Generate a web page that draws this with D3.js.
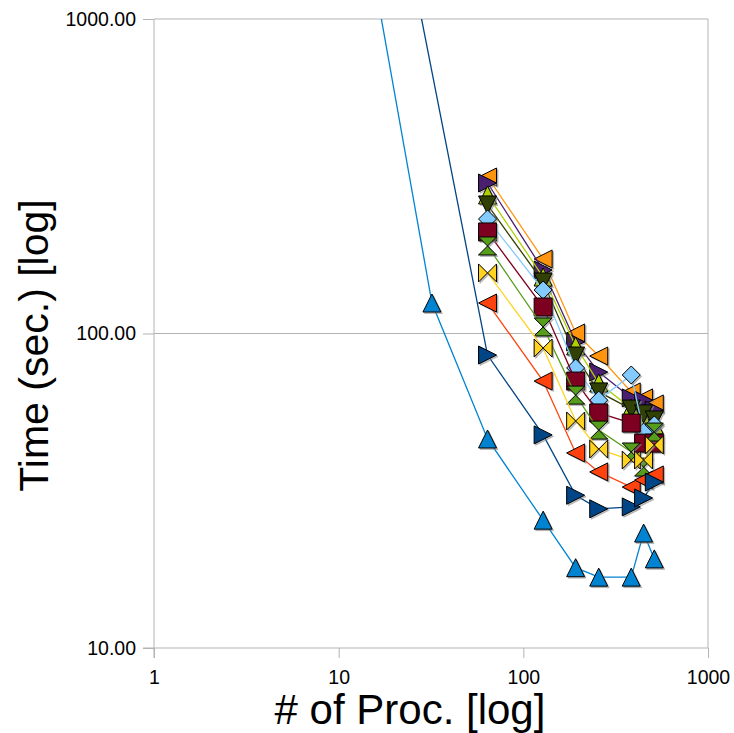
<!DOCTYPE html>
<html>
<head>
<meta charset="utf-8">
<script src="https://cdn.jsdelivr.net/npm/d3@7"></script>
<style>
  html, body { margin: 0; padding: 0; background: #fff; }
  svg { display: block; font-family: "Liberation Sans", Arial, sans-serif; }
</style>
</head>
<body>
<svg id="chart" width="734" height="733"></svg>
<script>
// ---- data ----
const procs = [64, 128, 192, 256, 384, 448, 512];
const xTicks = [1, 10, 100, 1000];
const yTicks = [10, 100, 1000];
const xTitle = "# of Proc. [log]";
const yTitle = "Time (sec.) [log]";

const s1x = [16, 64, 128, 192, 256, 384, 448, 512];
const s1y = [5400, 85.4, 47.6, 30.6, 27.7, 28.1, 30.0, 33.7];
const s2y = [125, 70.6, 41.7, 36.3, 32.5, 34.2, 35.5];
const s3y = [155.8, 89.9, 52.7, 42.9, 39.6, 39.6, 44.2];
const s4y = [189.8, 104.9, 63.7, 49.3, 42.0, 37.6, 48.6];
const s5y = [210.3, 121.4, 70.6, 55.9, 51.9, 44.8, 44.8];
const s6y = [231.2, 137.5, 77.7, 61.4, 73.8, 48.6, 51.2];
const s7y = [256.3, 145.8, 84.8, 65.2, 57.5, 55.5, 53.1];
const s8y = [275.7, 151.2, 91.3, 69.6, 57.9, 53.5, 51.2];
const s9y = [301, 159.2, 94.0, 75.4, 62.4, 61.4, 57.1];
const s10y = [314.5, 172.5, 100.4, 84.8, 65.2, 62.4, 59.7];
const s12x = [16, 32, 64, 128, 192, 256, 384, 448, 512];
const s12y = [1230, 125, 46.2, 25.5, 18.0, 16.8, 16.8, 23.2, 19.2];

const series = [
  { x: s1x,   y: s1y,  color: "#004586", sym: "right" },
  { x: procs, y: s2y,  color: "#ff420e", sym: "left" },
  { x: procs, y: s3y,  color: "#ffd320", sym: "bowtie" },
  { x: procs, y: s4y,  color: "#579d1c", sym: "sandglass" },
  { x: procs, y: s5y,  color: "#7e0021", sym: "square" },
  { x: procs, y: s6y,  color: "#83caff", sym: "diamond" },
  { x: procs, y: s7y,  color: "#314004", sym: "down" },
  { x: procs, y: s8y,  color: "#aecf00", sym: "up" },
  { x: procs, y: s9y,  color: "#4b1f6f", sym: "right" },
  { x: procs, y: s10y, color: "#ff950e", sym: "left" },
  { x: s12x,  y: s12y, color: "#0084d1", sym: "up" }
];

// ---- layout ----
const L = 154, R = 708, T = 19, B = 648;
const svg = d3.select("#chart");
const x = d3.scaleLog().domain([1, 1000]).range([L, R]);
const y = d3.scaleLog().domain([10, 1000]).range([B, T]);
const grid = "#b3b3b3";

// gridlines
svg.append("g").selectAll("line").data(yTicks.filter(v => v !== 10)).join("line")
  .attr("x1", L).attr("x2", R).attr("y1", d => y(d)).attr("y2", d => y(d))
  .attr("stroke", grid).attr("stroke-width", 1);
svg.append("line").attr("x1", R).attr("x2", R).attr("y1", T).attr("y2", B)
  .attr("stroke", grid).attr("stroke-width", 1);

// axes
const xAxis = d3.axisBottom(x).tickValues(xTicks).tickFormat(d3.format("d"))
  .tickSize(10).tickPadding(12);
const gx = svg.append("g").attr("transform", `translate(0,${B})`).call(xAxis);
const yAxis = d3.axisLeft(y).tickValues(yTicks).tickFormat(d3.format(".2f"))
  .tickSize(11).tickPadding(7);
const gy = svg.append("g").attr("transform", `translate(${L},0)`).call(yAxis);
[gx, gy].forEach(g => {
  g.select(".domain").attr("stroke", grid).attr("stroke-width", 1);
  g.selectAll(".tick line").attr("stroke", grid).attr("stroke-width", 1);
  g.selectAll(".tick text").attr("fill", "#000")
    .style("font-family", "'Liberation Sans', Arial, sans-serif").style("font-size", "19.5px");
});
gy.select(".domain").attr("d", `M0,${T}V${B + 10}`);
gx.select(".domain").attr("d", `M${L - 11},0H${R}`);

// titles
svg.append("text").attr("x", (L + R) / 2 - 21).attr("y", 724)
  .attr("text-anchor", "middle").style("font-size", "42px").text(xTitle);
svg.append("text").attr("transform", `translate(48,${(T + B) / 2 + 12}) rotate(-90)`)
  .attr("text-anchor", "middle").style("font-size", "41px").text(yTitle);

// clip
svg.append("clipPath").attr("id", "clip").append("rect")
  .attr("x", L).attr("y", T).attr("width", R - L).attr("height", B - T);

const h = 9;
const shapes = {
  square: `M${-h},${-h}H${h}V${h}H${-h}Z`,
  diamond: `M0,${-h}L${h},0L0,${h}L${-h},0Z`,
  down: `M${-h},${-h}L${h},${-h}L0,${h}Z`,
  up: `M${-h},${h}L${h},${h}L0,${-h}Z`,
  right: `M${-h},${-h}L${h},0L${-h},${h}Z`,
  left: `M${h},${-h}L${-h},0L${h},${h}Z`,
  bowtie: `M${-h},${-h}L0,0L${-h},${h}ZM${h},${-h}L0,0L${h},${h}Z`,
  sandglass: `M${-h},${-h}L${h},${-h}L0,0ZM${-h},${h}L${h},${h}L0,0Z`
};

const line = d3.line().x(d => x(d[0])).y(d => y(d[1]));

// draw in reverse order: first series ends on top
series.slice().reverse().forEach(s => {
  const pts = s.x.map((v, i) => [v, s.y[i]]);
  const g = svg.append("g");
  g.append("path").datum(pts).attr("d", line).attr("fill", "none")
    .attr("stroke", s.color).attr("stroke-width", 1.3).attr("clip-path", "url(#clip)");
  const vis = pts.filter(p => p[1] <= 1000 && p[1] >= 10);
  g.selectAll("path.shadow").data(vis).join("path").attr("class", "shadow")
    .attr("d", shapes[s.sym])
    .attr("transform", d => `translate(${x(d[0]) + 1.5},${y(d[1]) + 1.5})`)
    .attr("fill", "#888").attr("fill-opacity", 0.55).attr("stroke", "#888").attr("stroke-opacity", 0.4);
  g.selectAll("path.mk").data(vis).join("path").attr("class", "mk")
    .attr("d", shapes[s.sym])
    .attr("transform", d => `translate(${x(d[0])},${y(d[1])})`)
    .attr("fill", s.color).attr("stroke", "#000").attr("stroke-width", 1)
    .attr("stroke-linejoin", "miter");
});
</script>
</body>
</html>
